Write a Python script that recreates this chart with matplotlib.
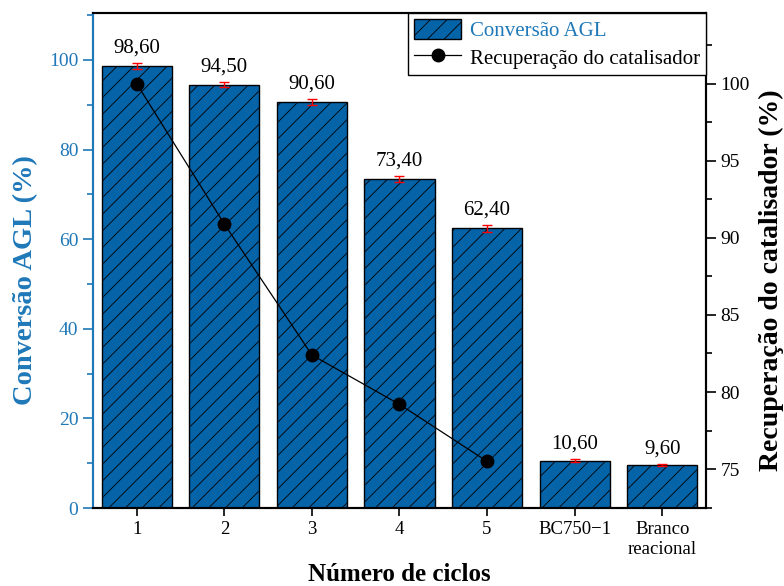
import matplotlib
matplotlib.use("Agg")
import matplotlib.pyplot as plt
from matplotlib.ticker import MultipleLocator
import numpy as np

categories = ["1", "2", "3", "4", "5", "BC750\u22121", "Branco\nreacional"]
conversion = [98.6, 94.5, 90.6, 73.4, 62.4, 10.6, 9.6]
conv_err = [0.7, 0.6, 0.6, 0.7, 0.8, 0.3, 0.2]
conv_labels = ["98,60", "94,50", "90,60", "73,40", "62,40", "10,60", "9,60"]
recovery_x = [1, 2, 3, 4, 5]
recovery = [100.0, 90.9, 82.4, 79.2, 75.5]

plt.rcParams['font.family'] = ['Liberation Serif', 'DejaVu Serif']
plt.rcParams['hatch.linewidth'] = 0.6

blue_bar = '#0563a8'
blue_axis = '#1f78b8'

fig = plt.figure(figsize=(7.84, 5.86), dpi=100)
ax = fig.add_axes([0.1186, 0.133, 0.7819, 0.845])
x = np.arange(1, len(categories) + 1)
bars = ax.bar(x, conversion, width=0.8, color=blue_bar, edgecolor='black',
              linewidth=1.0, hatch='//', label='Conversão AGL', zorder=2)
ax.errorbar(x, conversion, yerr=conv_err, fmt='none', ecolor='red',
            elinewidth=1.0, capsize=3.6, capthick=1.0, zorder=3)
for xi, v, e, lab in zip(x, conversion, conv_err, conv_labels):
    ax.text(xi, v + e + 1.2, lab, ha='center', va='bottom', fontsize=15)

ax.set_xlim(0.5, 7.5)
ax.set_ylim(0, 110.5)
ax.set_xticks(x)
ax.set_xticklabels(categories, fontsize=13.5)
ax.yaxis.set_major_locator(MultipleLocator(20))
ax.yaxis.set_minor_locator(MultipleLocator(10))
ax.tick_params(axis='y', which='both', direction='out', colors=blue_axis,
               labelsize=14)
ax.tick_params(axis='y', which='major', length=7, width=1.2)
ax.tick_params(axis='y', which='minor', length=4.5, width=1.2)
ax.tick_params(axis='x', direction='out', length=6, width=1.2, labelsize=13.5)
ax.spines['left'].set_color(blue_axis)
for s in ax.spines.values():
    s.set_linewidth(1.5)
ax.set_ylabel('Conversão AGL (%)', fontsize=20.5, fontweight='bold',
              color=blue_axis)
ax.yaxis.set_label_coords(-0.09, 0.46)
ax.set_xlabel('Número de ciclos', fontsize=18, fontweight='bold')

ax2 = ax.twinx()
line, = ax2.plot(recovery_x, recovery, color='black', linewidth=0.9,
                 marker='o', markersize=9, label='Recuperação do catalisador',
                 zorder=4)
ax2.set_ylim(72.47, 104.6)
ax2.yaxis.set_major_locator(MultipleLocator(5))
ax2.yaxis.set_minor_locator(MultipleLocator(2.5))
ax2.tick_params(axis='y', which='both', direction='out', labelsize=14)
ax2.tick_params(axis='y', which='major', length=7, width=1.2)
ax2.tick_params(axis='y', which='minor', length=4.5, width=1.2)
ax2.spines['left'].set_color(blue_axis)
for s in ax2.spines.values():
    s.set_linewidth(1.5)
ax2.set_ylabel('Recuperação do catalisador (%)', fontsize=20,
               fontweight='bold')
ax2.yaxis.set_label_coords(1.086, 0.46)

leg = ax2.legend([bars, line], ['Conversão AGL', 'Recuperação do catalisador'],
                 loc='upper right', borderaxespad=0, fontsize=15,
                 fancybox=False, edgecolor='black', framealpha=1,
                 handlelength=2.25, handleheight=1.1, handletextpad=0.4,
                 borderpad=0.3, labelspacing=0.25)
leg.get_frame().set_linewidth(1.0)
leg.get_texts()[0].set_color(blue_axis)

fig.savefig('out.png', dpi=100)
